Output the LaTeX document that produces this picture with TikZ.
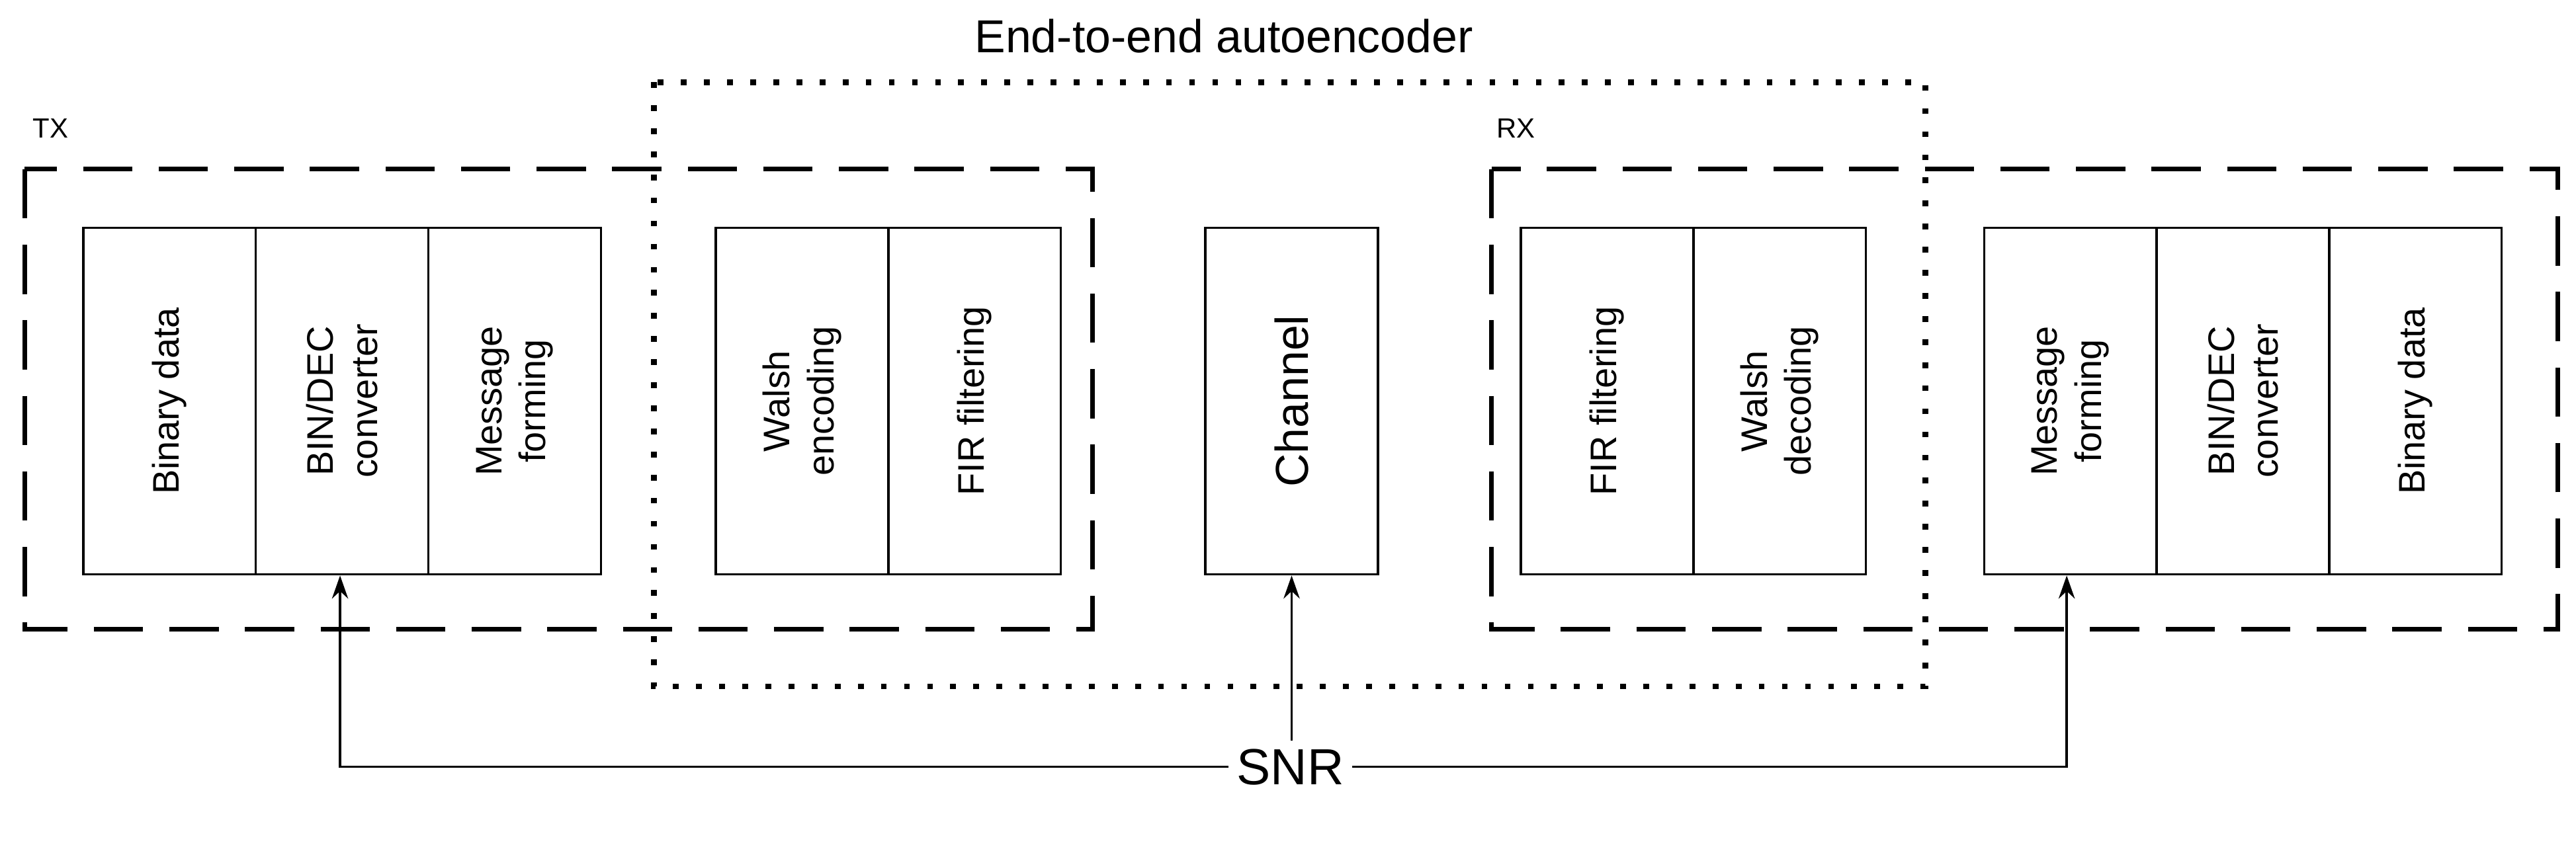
\documentclass[tikz,border=0pt]{standalone}
\usepackage{fontspec}
\setmainfont{Liberation Sans}
\usetikzlibrary{arrows.meta}
\begin{document}
\begin{tikzpicture}[x=0.025cm,y=-0.025cm,
 blk/.style={draw,line width=1pt,minimum width=2.625cm,minimum height=5.275cm,inner sep=0pt,anchor=north west},
 lbl/.style={rotate=90,font=\fontsize{16}{19}\selectfont,align=center},
 dsh/.style={line width=2pt,dash pattern=on 0.75cm off 0.4cm},
 dot/.style={line width=2.5pt,dash pattern=on 2.5pt off 7.5pt},
 arr/.style={line width=1pt,-{Stealth[length=10pt,width=7pt]}}]
\useasboundingbox (0,0) rectangle (1568,523);
\node[font=\fontsize{20}{24}\selectfont] (title) at (745,22) {End-to-end autoencoder};
\draw[dot] (398,50) rectangle (1172,418);
\node[font=\fontsize{12}{14}\selectfont,anchor=west] (tx) at (15,78) {TX};
\node[font=\fontsize{12}{14}\selectfont,anchor=west] (rx) at (906,78) {RX};
\draw[dsh] (15,103) rectangle (665,383);
\draw[dsh] (908,103) rectangle (1557,383);
\foreach \n/\x/\t in {b1/50/Binary data, c1/155/{BIN/DEC\\converter}, m1/260/{Message\\forming}, w1/435/{Walsh\\encoding}, f1/540/FIR filtering, f2/925/FIR filtering, w2/1030/{Walsh\\decoding}, m2/1207/{Message\\forming}, c2/1312/{BIN/DEC\\converter}, b2/1417/Binary data}
  {\node[blk] (\n) at (\x,138) {};
   \node[lbl] (\n-t) at (\n.center) {\t};}
\node[blk] (ch) at (733,138) {};
\node[rotate=90,font=\fontsize{20}{24}\selectfont] (ch-t) at (ch.center) {Channel};
\node[font=\fontsize{22}{26}\selectfont] (snr) at (785.5,467) {SNR};
\draw[arr] (snr.west) -| (c1.south -| 207,0);
\draw[arr] (snr.east) -| (c2.south -| 1258,0);
\draw[arr] (snr.north -| ch.south) -- (ch.south);
\end{tikzpicture}
\end{document}
